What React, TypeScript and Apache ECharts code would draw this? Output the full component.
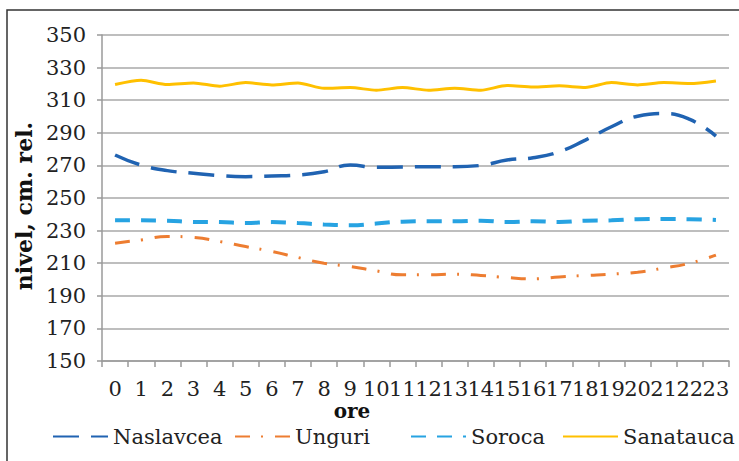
import React, { useEffect, useRef } from "react";
import * as echarts from "echarts";

const hours = ["0","1","2","3","4","5","6","7","8","9","10","11","12","13","14","15","16","17","18","19","20","21","22","23"];
const yTicks = { min: 150, max: 350, interval: 20 };

const naslavcea = [276.4, 270.2, 266.8, 265.2, 263.7, 263.1, 263.5, 264.1, 266.1, 270.2, 268.8, 269.0, 269.2, 269.2, 270.0, 273.3, 274.7, 278.4, 285.5, 293.7, 300.2, 301.8, 298.2, 288.0];
const unguri = [222.3, 224.3, 226.4, 225.8, 223.3, 220.2, 217.2, 213.5, 210.0, 208.0, 205.3, 202.9, 202.9, 203.3, 202.5, 201.2, 200.4, 201.6, 202.5, 203.3, 204.5, 207.0, 210.0, 215.0];
const soroca = [236.3, 236.3, 236.1, 235.3, 235.2, 234.7, 235.2, 234.6, 233.7, 233.3, 234.3, 235.5, 235.7, 235.7, 236.1, 235.3, 235.7, 235.3, 236.1, 236.3, 237.0, 237.1, 237.0, 236.5];
const sanatauca = [319.6, 322.2, 319.6, 320.6, 318.6, 320.8, 319.4, 320.6, 317.3, 317.8, 316.1, 317.8, 316.1, 317.3, 316.1, 319.0, 318.1, 318.8, 317.8, 320.8, 319.4, 320.8, 320.2, 321.8];

const seriesNames = ["Naslavcea", "Unguri", "Soroca", "Sanatauca"];
const yAxisTitle = "nivel, cm. rel.";
const xAxisTitle = "ore";

const FONT = "DejaVu Serif";

export default function App() {
  const ref = useRef<HTMLDivElement>(null);
  useEffect(() => {
    if (!ref.current) return;
    const chart = echarts.init(ref.current, undefined, { renderer: "svg" });
    const legendLefts = [52, 234, 410, 562];
    const legendStyle = (name: string, i: number) => ({
      data: [name],
      left: legendLefts[i],
      top: 426,
      itemWidth: 55,
      itemHeight: 14,
      padding: 0,
      itemStyle: { color: "transparent", borderColor: "transparent", borderWidth: 0 },
      textStyle: { fontFamily: FONT, fontSize: 21, color: "#222" },
    });
    chart.setOption({
      animation: false,
      backgroundColor: "#ffffff",
      grid: { left: 102, right: 10, top: 35, bottom: 100, containLabel: false },
      legend: seriesNames.map((n, i) => legendStyle(n, i)),
      xAxis: {
        type: "category",
        data: hours,
        boundaryGap: true,
        axisLine: { show: true, lineStyle: { color: "#9a9a9a", width: 1.5 } },
        axisTick: { show: true, length: 6, interval: 0, lineStyle: { color: "#9a9a9a", width: 1.5 } },
        axisLabel: { interval: 0, margin: 17, fontFamily: FONT, fontSize: 21, color: "#222" },
      },
      yAxis: {
        type: "value",
        min: yTicks.min,
        max: yTicks.max,
        interval: yTicks.interval,
        name: yAxisTitle,
        nameLocation: "middle",
        nameRotate: 90,
        nameGap: 66,
        nameTextStyle: { fontFamily: FONT, fontSize: 22, fontWeight: "bold", color: "#111", padding: [0, 16, 0, 0] },
        axisLine: { show: true, lineStyle: { color: "#9a9a9a", width: 1.5 } },
        axisTick: { show: true, length: 5, lineStyle: { color: "#9a9a9a", width: 1.5 } },
        axisLabel: { margin: 16, fontFamily: FONT, fontSize: 21, color: "#222" },
        splitLine: { show: true, lineStyle: { color: "#a8a8a8", width: 1.5 } },
      },
      graphic: [
        {
          type: "rect",
          shape: { x: 7, y: 10, width: 745, height: 470 },
          style: { fill: "none", stroke: "#333", lineWidth: 1.5 },
          silent: true,
        },
        {
          type: "text",
          x: 352,
          y: 411,
          style: {
            text: xAxisTitle,
            fontFamily: FONT,
            fontSize: 20,
            fontWeight: "bold",
            fill: "#111",
            align: "center",
            verticalAlign: "middle",
          },
        },
      ],
      series: [
        {
          name: seriesNames[0],
          type: "line",
          data: naslavcea,
          smooth: true,
          symbol: "none",
          lineStyle: { color: "#2063B2", width: 3.5, type: [26, 12] },
          itemStyle: { color: "#2063B2" },
        },
        {
          name: seriesNames[1],
          type: "line",
          data: unguri,
          smooth: true,
          symbol: "none",
          lineStyle: { color: "#ED7D31", width: 3, type: [15, 11, 2, 12] },
          itemStyle: { color: "#ED7D31" },
        },
        {
          name: seriesNames[2],
          type: "line",
          data: soroca,
          smooth: true,
          symbol: "none",
          lineStyle: { color: "#27A3E2", width: 4, type: [15, 11] },
          itemStyle: { color: "#27A3E2" },
        },
        {
          name: seriesNames[3],
          type: "line",
          data: sanatauca,
          smooth: 0.25,
          symbol: "none",
          lineStyle: { color: "#FFC000", width: 3, type: "solid" },
          itemStyle: { color: "#FFC000" },
        },
      ],
    });
    return () => chart.dispose();
  }, []);
  return (
    <div
      ref={ref}
      style={{ position: "fixed", left: 0, top: 0, width: 739, height: 461, background: "#fff" }}
    />
  );
}
